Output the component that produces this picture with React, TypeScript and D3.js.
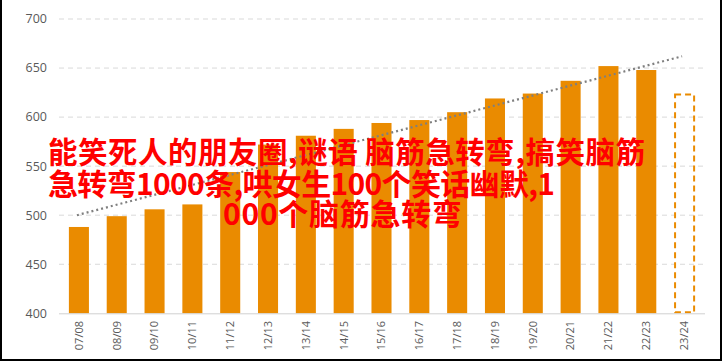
import React from 'react'
import * as d3 from 'd3'

// seasons on the x axis
const seasons = ['07/08', '08/09', '09/10', '10/11', '11/12', '12/13', '13/14', '14/15', '15/16',
  '16/17', '17/18', '18/19', '19/20', '20/21', '21/22', '22/23', '23/24']
// actual values (last season is a forecast, drawn dashed)
const values = [488, 499, 506, 511, 544, 572, 581, 588, 594, 597, 605, 619, 624, 637, 652, 648]
const forecast = 623
// trend line end points
const trendStart = 500
const trendEnd = 662
const yTicks = [400, 450, 500, 550, 600, 650, 700]
const titleLines = [
  '能笑死人的朋友圈,谜语 脑筋急转弯,搞笑脑筋',
  '急转弯1000条,哄女生100个笑话幽默,1',
  '000个脑筋急转弯'
]

const W = 723
const H = 363
const orange = '#ea8b00'

export default function App () {
  const x = d3.scaleBand<string>()
    .domain(seasons)
    .range([60, 703])
    .paddingInner(0.47)
    .paddingOuter(0.235)
  const y = d3.scaleLinear().domain([400, 700]).range([313.3, 19])
  const bw = x.bandwidth()
  const cx = (s: string) => (x(s) as number) + bw / 2

  const trend = d3.line<[number, number]>()([
    [cx(seasons[0]) - 2, y(trendStart)],
    [cx(seasons[seasons.length - 1]) - 2, y(trendEnd)]
  ])

  const last = seasons[seasons.length - 1]
  // title lines: start, width, baseline, size
  const lineX = [48, 48, 223]
  const lineW = [597, 507, 239]
  const lineY = [163, 195, 225]
  const lineF = [29.5, 30, 30]

  return (
    <svg width={W} height={H} style={{position: 'absolute', left: 0, top: 0}}
      fontFamily="'Open Sans', 'DejaVu Sans', sans-serif">
      <rect x={0} y={0} width={W} height={H} fill='#fff' />

      {/* grid */}
      {yTicks.slice(1).map(t => (
        <line key={t} x1={59} x2={703} y1={y(t)} y2={y(t)}
          stroke='#d9d9d9' strokeWidth={1} strokeDasharray='5 4' />
      ))}
      {yTicks.map(t => (
        <text key={t} x={47} y={y(t)} dy='0.35em' textAnchor='end'
          fontSize={12.5} fill='#595959'>{t}</text>
      ))}

      {/* bars */}
      {values.map((v, i) => (
        <rect key={seasons[i]} x={x(seasons[i])} y={y(v)} width={bw}
          height={y(400) - y(v)} fill={orange} />
      ))}
      <rect x={(x(last) as number) + 1} y={y(forecast)} width={bw - 1}
        height={y(400) - y(forecast) - 1} fill='none' stroke={orange}
        strokeWidth={2} strokeDasharray='6 4' />

      {/* axis */}
      <line x1={59} x2={705} y1={y(400) + 0.5} y2={y(400) + 0.5} stroke='#d0d0d0' strokeWidth={1} />
      {seasons.map(s => (
        <text key={s} transform={`translate(${cx(s)},321) rotate(-90)`} dy='0.35em'
          textAnchor='end' fontSize={11} fill='#595959'>{s}</text>
      ))}

      {/* trend */}
      <path d={trend as string} fill='none' stroke='#7f7f7f' strokeWidth={2.2}
        strokeDasharray='2 3' />

      {/* overlaid title */}
      {titleLines.map((t, i) => (
        <text key={i} x={lineX[i]} y={lineY[i]} fontSize={lineF[i]} fontWeight='bold'
          textLength={lineW[i]} lengthAdjust='spacing'
          fill='#ff0000' fontFamily="'Noto Sans CJK SC', sans-serif">{t}</text>
      ))}

      <rect x={1} y={-2} width={720} height={362} fill='none' stroke='#000' strokeWidth={2} />
    </svg>
  )
}
